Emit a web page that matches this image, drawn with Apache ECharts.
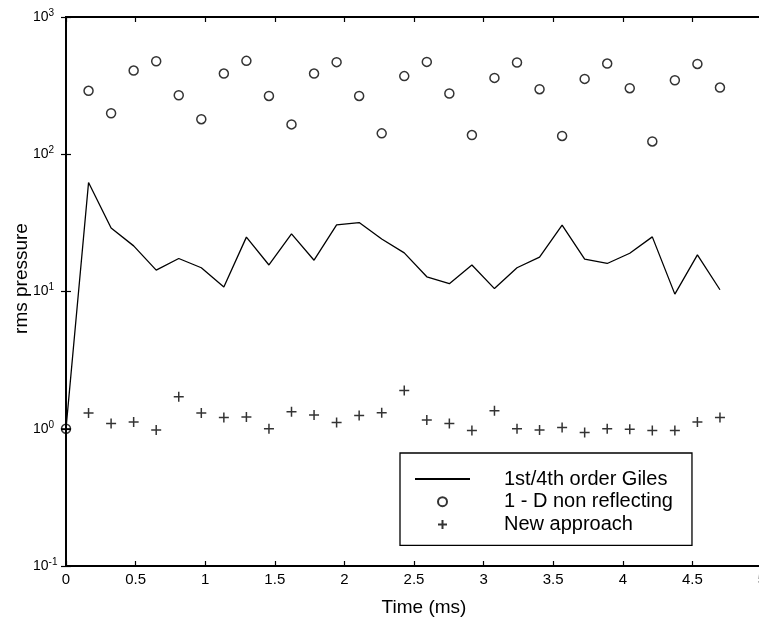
<!DOCTYPE html>
<html>
<head>
<meta charset="utf-8">
<script src="https://cdn.jsdelivr.net/npm/echarts@6/dist/echarts.min.js"></script>
<style>html,body{margin:0;padding:0;background:#fff;}#c{width:759px;height:619px;}</style>
</head>
<body>
<div id="c"></div>
<script>
var times = [0, 0.162, 0.324, 0.486, 0.648, 0.81, 0.972, 1.134, 1.296, 1.458, 1.62, 1.782, 1.944, 2.106, 2.268, 2.43, 2.592, 2.754, 2.916, 3.078, 3.24, 3.402, 3.564, 3.726, 3.888, 4.05, 4.212, 4.374, 4.536, 4.698];
var gilesValues = [1, 62.2, 29.0, 21.5, 14.3, 17.4, 14.9, 10.8, 24.9, 15.6, 26.3, 16.9, 30.6, 31.8, 24.1, 19.1, 12.8, 11.4, 15.6, 10.5, 14.9, 17.8, 30.5, 17.2, 16.0, 19.0, 25.0, 9.57, 18.5, 10.3];
var nonReflValues = [1, 290, 199, 407, 476, 269, 180, 387, 479, 266, 165, 387, 469, 266, 142, 371, 471, 277, 138, 360, 466, 298, 136, 354, 458, 303, 124, 346, 455, 306];
var newApproachValues = [1, 1.30, 1.09, 1.12, 0.98, 1.71, 1.30, 1.21, 1.22, 1.0, 1.33, 1.26, 1.11, 1.25, 1.31, 1.90, 1.16, 1.09, 0.97, 1.35, 1.0, 0.98, 1.02, 0.94, 1.0, 0.99, 0.97, 0.97, 1.12, 1.21];
var seriesNames = ['1st/4th order Giles', '1 - D non reflecting', 'New approach'];
var xTitle = 'Time (ms)';
var yTitle = 'rms pressure';

function pairs(vals) { return times.map(function (t, i) { return [t, vals[i]]; }); }

var font = 'Liberation Sans, Arial, Helvetica, sans-serif';
var plusPath = 'path://M0,5L10,5M5,0L5,10';

var chart = echarts.init(document.getElementById('c'), null, {renderer: 'canvas'});
var axisLine = {show: true, lineStyle: {color: '#000', width: 1.8}};
var tick = {show: true, inside: true, length: 5, lineStyle: {color: '#000', width: 1.2}};
var option = {
  backgroundColor: '#fff',
  animation: false,
  textStyle: {fontFamily: font, color: '#000'},
  grid: {left: 66, top: 17, width: 696, height: 549, containLabel: false, outerBoundsMode: 'none'},
  xAxis: [{
    type: 'value', min: 0, max: 5, interval: 0.5, position: 'bottom',
    axisLine: axisLine, axisTick: tick,
    splitLine: {show: false},
    axisLabel: {color: '#000', fontSize: 15, fontFamily: font, margin: 6},
    name: xTitle, nameLocation: 'middle', nameGap: 32, nameMoveOverlap: false,
    nameTextStyle: {fontSize: 19, fontFamily: font, color: '#000', padding: [0, 0, 0, 20]}
  }, {
    type: 'value', min: 0, max: 5, interval: 0.5, position: 'top',
    axisLine: axisLine, axisTick: tick,
    axisLabel: {show: false}, splitLine: {show: false}
  }],
  yAxis: [{
    type: 'log', logBase: 10, min: 0.1, max: 1000, position: 'left',
    axisLine: axisLine, axisTick: tick,
    minorTick: {show: false},
    splitLine: {show: false},
    axisLabel: {
      align: 'left', margin: 33, color: '#000',
      formatter: function (v) { var e = Math.round(Math.log10(v)); return '{b|10}{s|' + e + '}'; },
      rich: {
        b: {fontSize: 14, fontFamily: font, color: '#000', lineHeight: 18},
        s: {fontSize: 10, fontFamily: font, color: '#000', verticalAlign: 'top', lineHeight: 12}
      }
    },
    name: yTitle, nameLocation: 'middle', nameGap: 35, nameRotate: 90, nameMoveOverlap: false,
    nameTextStyle: {fontSize: 19, fontFamily: font, color: '#000', padding: [0, 0, 0, 26]}
  }, {
    type: 'log', logBase: 10, min: 0.1, max: 1000, position: 'right',
    axisLine: axisLine, axisTick: tick,
    axisLabel: {show: false}, splitLine: {show: false}
  }],
  legend: {
    left: 400, top: 453, orient: 'vertical',
    padding: [15, 19, 10, 14],
    itemWidth: 55, itemHeight: 9, itemGap: 0.7,
    borderColor: '#000', borderWidth: 1.3, backgroundColor: '#fff',
    textStyle: {fontSize: 20, fontFamily: font, color: '#000', lineHeight: 22, padding: [0, 0, 0, 29]},
    data: [
      {name: seriesNames[0], itemStyle: {color: 'rgba(0,0,0,0)', borderWidth: 0, opacity: 0}},
      {name: seriesNames[1]},
      {name: seriesNames[2]}
    ]
  },
  series: [{
    name: seriesNames[0], type: 'line', data: pairs(gilesValues),
    symbol: 'none', showSymbol: false,
    lineStyle: {color: '#000', width: 1.3},
    itemStyle: {color: '#000'}, z: 3
  }, {
    name: seriesNames[1], type: 'scatter', data: pairs(nonReflValues),
    symbol: 'circle', symbolSize: 9,
    itemStyle: {color: 'rgba(0,0,0,0)', borderColor: '#000', borderWidth: 1.5}, z: 4
  }, {
    name: seriesNames[2], type: 'scatter', data: pairs(newApproachValues),
    symbol: plusPath, symbolSize: 10,
    itemStyle: {color: 'rgba(0,0,0,0)', borderColor: '#000', borderWidth: 1.5}, z: 4
  }]
};
chart.setOption(option);
</script>
</body>
</html>
